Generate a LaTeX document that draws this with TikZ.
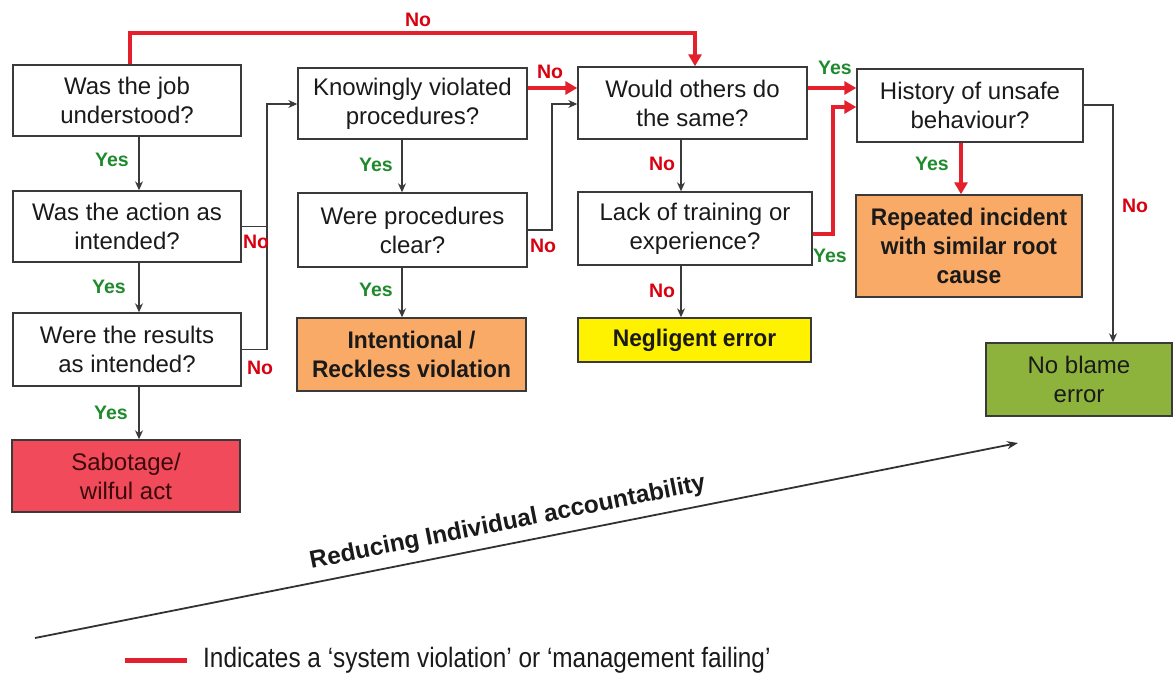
\documentclass[tikz,border=0pt]{standalone}
\usepackage{fontspec}
\setmainfont{Liberation Sans}
\newfontfamily\condsans[FakeStretch=0.87]{Liberation Sans}
\newfontfamily\condbold[FakeStretch=0.95]{Liberation Sans Bold}
\usetikzlibrary{arrows.meta}
\definecolor{boxline}{HTML}{3A3A3A}
\definecolor{txt}{HTML}{1A1A1A}
\definecolor{sysred}{HTML}{E3202B}
\definecolor{yesgreen}{HTML}{1F8A2C}
\definecolor{nored}{HTML}{D9000F}
\definecolor{orangefill}{HTML}{F9AA66}
\definecolor{yellowfill}{HTML}{FFF200}
\definecolor{greenfill}{HTML}{8DB33D}
\definecolor{redfill}{HTML}{F14A5B}
\newcommand\qfont{\fontsize{24}{29}\selectfont}
\newcommand\rfont{\condbold\fontsize{24}{29}\selectfont}
\newcommand\lblfont{\bfseries\fontsize{19.5}{21}\selectfont}
\tikzset{
  box/.style={draw=boxline, line width=1.4pt, align=center, inner sep=0pt, text=txt, font=\qfont},
  qbox/.style={box, fill=white},
  resbox/.style={box, font=\rfont},
  blk/.style={draw=boxline, line width=1.2pt, -{Stealth[length=9pt,width=8pt]}},
  blkline/.style={draw=boxline, line width=1.2pt},
  sys/.style={draw=sysred, line width=3.6pt, -{Triangle[length=12pt,width=13pt]}},
  yeslbl/.style={text=yesgreen, font=\lblfont, inner sep=0pt},
  nolbl/.style={text=nored, font=\lblfont, inner sep=0pt},
}
\begin{document}
\begin{tikzpicture}[x=1pt,y=-1pt]
\useasboundingbox (0,0) rectangle (1173,674);

% question boxes
\node[qbox, minimum width=228pt, minimum height=71pt] (B1) at (127,100.5) {Was the job\\understood?};
\node[qbox, minimum width=228pt, minimum height=71pt] (B2) at (127,226.5) {Was the action as\\intended?};
\node[qbox, minimum width=228pt, minimum height=73pt] (B3) at (127,349.5) {Were the results\\as intended?};
\node[qbox, minimum width=229pt, minimum height=71pt] (B5) at (412.5,103.5) {Knowingly violated\\procedures?};
\node[qbox, minimum width=229pt, minimum height=74pt] (B6) at (412.5,230) {Were procedures\\clear?};
\node[qbox, minimum width=229pt, minimum height=72pt] (B8) at (692.5,103) {Would others do\\the same?};
\node[qbox, minimum width=234pt, minimum height=73pt] (B9) at (695,228.5) {Lack of training or\\experience?};
\node[qbox, minimum width=226pt, minimum height=73pt] (B11) at (970,105.5) {History of unsafe\\behaviour?};

% outcome boxes
\node[box, fill=redfill, text={rgb,255:red,58;green,10;blue,12}, minimum width=228pt, minimum height=72pt] (B4) at (126,476) {Sabotage/\\wilful act};
\node[resbox, fill=orangefill, minimum width=229pt, minimum height=73pt] (B7) at (411.5,354.5) {Intentional /\\Reckless violation};
\node[resbox, fill=yellowfill, minimum width=233pt, minimum height=44pt] (B10) at (694.5,340) {Negligent error};
\node[resbox, fill=orangefill, minimum width=226pt, minimum height=102pt] (B12) at (969,246) {Repeated incident\\with similar root\\cause};
\node[box, fill=greenfill, minimum width=186pt, minimum height=73pt] (B13) at (1079,379.5) {No blame\\error};

% routing points
\coordinate (xa) at (139,0);
\coordinate (xb) at (402,0);
\coordinate (xc) at (681,0);
\coordinate (xd) at (961,0);
\coordinate (tl) at (130,33);
\coordinate (tr) at (695,33);
\coordinate (ya) at (0,88);
\coordinate (j1) at (267,104);
\coordinate (j2) at (552,104);
\coordinate (k1) at (833,234);
\coordinate (k2) at (0,107);
\coordinate (k3) at (1113,105);

% vertical yes/no flow
\draw[blk] (B1.south -| xa) -- (B2.north -| xa);
\draw[blk] (B2.south -| xa) -- (B3.north -| xa);
\draw[blk] (B3.south -| xa) -- (B4.north -| xa);
\draw[blk] (B5.south -| xb) -- (B6.north -| xb);
\draw[blk] (B6.south -| xb) -- (B7.north -| xb);
\draw[blk] (B8.south -| xc) -- (B9.north -| xc);
\draw[blk] (B9.south -| xc) -- (B10.north -| xc);

% side routes
\draw[blkline] (B2.east) -- (B2.east -| j1);
\draw[blk] (B3.east) -- (B3.east -| j1) -- (j1) -- (B5.west |- j1);
\draw[blk] (B6.east) -| (j2) -- (B8.west |- j2);
\draw[blk] (B11.east |- k3) -| (B13.north -| k3);

% system routes
\draw[sys] (B1.north -| tl) -- (tl) -- (tr) -- (B8.north -| tr);
\draw[sys] (B5.east |- ya) -- (B8.west |- ya);
\draw[sys] (B8.east |- ya) -- (B11.west |- ya);
\draw[sys] (B9.east |- k1) -- (k1) |- (B11.west |- k2);
\draw[sys] (B11.south -| xd) -- (B12.north -| xd);

% labels
\node[yeslbl] (y1) at (112,160) {Yes};
\node[yeslbl] (y2) at (109,287) {Yes};
\node[yeslbl] (y3) at (111,413) {Yes};
\node[yeslbl] (y4) at (376,165) {Yes};
\node[yeslbl] (y5) at (376,290) {Yes};
\node[yeslbl] (y6) at (835,68) {Yes};
\node[yeslbl] (y7) at (830,256) {Yes};
\node[yeslbl] (y8) at (932,164) {Yes};
\node[nolbl] (n1) at (418,20) {No};
\node[nolbl] (n2) at (256,242) {No};
\node[nolbl] (n3) at (260,368) {No};
\node[nolbl] (n4) at (550,72) {No};
\node[nolbl] (n5) at (543,246) {No};
\node[nolbl] (n6) at (662,164) {No};
\node[nolbl] (n7) at (662,291) {No};
\node[nolbl] (n8) at (1135,206) {No};

% accountability axis
\coordinate (d0) at (35,638);
\coordinate (d1) at (1018,443);
\draw[draw={rgb,255:red,50;green,50;blue,50}, line width=1.8pt, -{Stealth[length=11pt,width=8pt]}] (d0) -- (d1)
  node[pos=0.485, sloped, above=5pt, text=txt, font=\bfseries\fontsize{24.4}{27}\selectfont] (axis) {Reducing Individual accountability};

% legend
\coordinate (l0) at (125,660);
\coordinate (l1) at (187,660);
\draw[draw=sysred, line width=5pt] (l0) -- (l1);
\node[anchor=west, text=txt, inner sep=0pt, font=\condsans\fontsize{28}{30}\selectfont] (legend) at (203,660) {Indicates a ‘system violation’ or ‘management failing’};
\end{tikzpicture}
\end{document}
